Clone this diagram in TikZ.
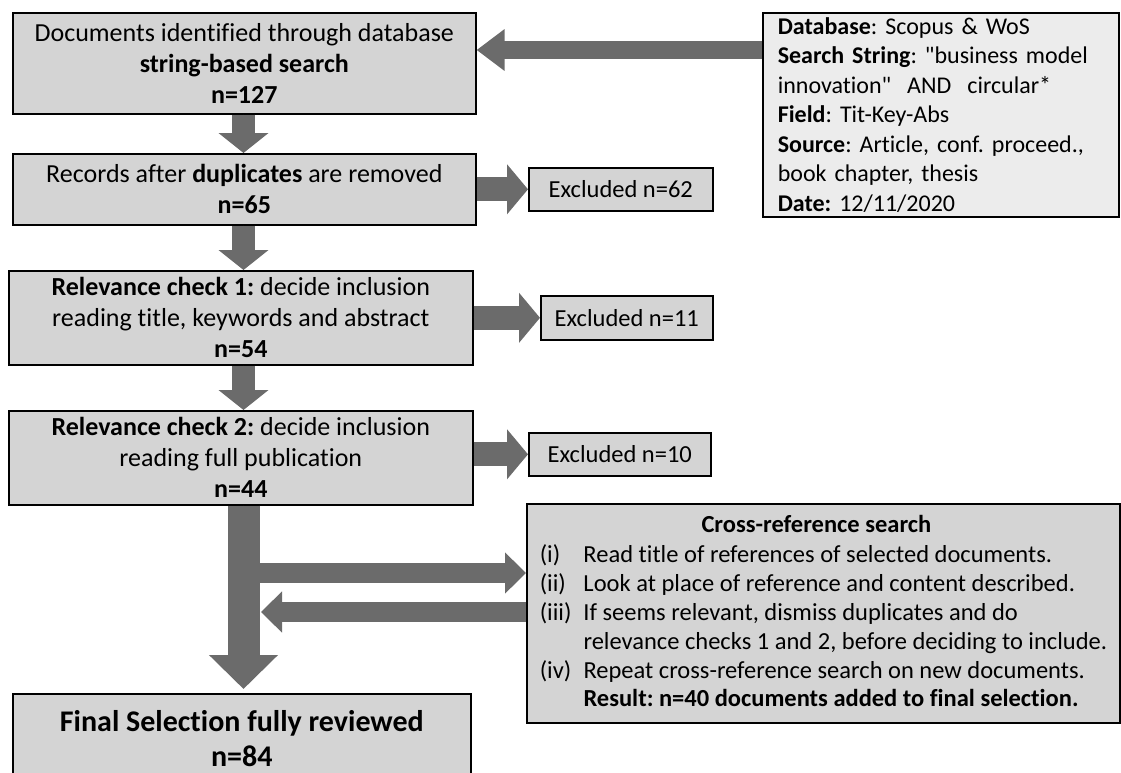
\documentclass[tikz,border=0pt]{standalone}
\usepackage{fontspec}
\setmainfont{Carlito}[Ligatures={TeXOff,NoCommon}]
\usetikzlibrary{arrows.meta,calc}
\definecolor{boxgray}{HTML}{D4D4D4}
\definecolor{infogray}{HTML}{ECECEC}
\definecolor{arrowgray}{HTML}{6B6B6B}
\tikzset{
  box/.style={draw=black, line width=1.6pt, fill=boxgray, align=center, inner sep=0pt,
    font=\fontsize{26}{31}\selectfont\frenchspacing},
  smallbox/.style={box, font=\fontsize{24.5}{29}\selectfont\frenchspacing},
  blockarrow/.style={draw=arrowgray, fill=arrowgray},
}
\begin{document}
\begin{tikzpicture}[x=1pt,y=-1pt]
\useasboundingbox (0,0) rectangle (1121,772);
\coordinate (ax) at (243.5,0);
% main column
\node[box, minimum width=463pt, minimum height=101pt, anchor=north west] (b1) at (12,12)
  {Documents identified through database\\\textbf{string-based search}\\\textbf{n=127}};
\node[box, minimum width=463pt, minimum height=71pt, anchor=north west] (b2) at (12,153)
  {Records after \textbf{duplicates} are removed\\\textbf{n=65}};
\node[box, minimum width=464pt, minimum height=94pt, anchor=north west] (b3) at (8,270)
  {\textbf{Relevance check 1:} decide inclusion\\reading title, keywords and abstract\\\textbf{n=54}};
\node[box, minimum width=464pt, minimum height=94pt, anchor=north west] (b4) at (8,410)
  {\textbf{Relevance check 2:} decide inclusion\\reading full publication\\\textbf{n=44}};
\node[box, minimum width=458pt, minimum height=89pt, anchor=north west,
  font=\fontsize{30}{35}\selectfont\bfseries] (fin) at (12,693)
  {Final Selection fully reviewed\\n=84};
% excluded boxes
\node[smallbox, minimum width=184pt, minimum height=43pt, anchor=north west] (e62) at (528,167) {Excluded n=62};
\node[smallbox, minimum width=172pt, minimum height=44pt, anchor=north west] (e11) at (540,295) {Excluded n=11};
\node[smallbox, minimum width=182pt, minimum height=43pt, anchor=north west] (e10) at (528,432) {Excluded n=10};
% info box
\node[smallbox, fill=infogray, align=left, anchor=north west, minimum width=356pt, minimum height=204pt,
  inner xsep=15pt, text width=326pt, font=\fontsize{24}{29.5}\selectfont\frenchspacing] (info) at (762,12)
  {\textbf{Database}: Scopus \& WoS\\
   \textbf{Search String}: "business model\\
   innovation"\ \ AND\ \ circular*\\
   \textbf{Field}: Tit-Key-Abs\\
   \textbf{Source}: Article, conf. proceed.,\\
   book chapter, thesis\\
   \textbf{Date:} 12/11/2020};
% cross-reference box
\node[smallbox, align=left, anchor=north west, minimum width=592pt, minimum height=219pt,
  inner xsep=13pt] (cross) at (526,503)
  {\begin{tabular}{@{}l@{\hspace{12pt}}l@{}}
   \multicolumn{2}{c}{\hspace{-14pt}\textbf{Cross-reference search}}\\[1pt]
   (i) & Read title of references of selected documents.\\
   (ii) & Look at place of reference and content described.\\
   (iii) & If seems relevant, dismiss duplicates and do\\
         & relevance checks 1 and 2, before deciding to include.\\
   (iv) & Repeat cross-reference search on new documents.\\[-1pt]
        & \textbf{Result: n=40 documents added to final selection.}
   \end{tabular}};
% arrows
\draw[blockarrow, line width=18pt, -{Triangle[width=40pt,length=28pt]}]
  ([yshift=-38pt]info.north west) -- ([yshift=-38pt]b1.north east);
\draw[blockarrow, line width=23pt, -{Triangle[width=49pt,length=20pt]}]
  (b1.south -| ax) -- (b2.north -| ax);
\draw[blockarrow, line width=23pt, -{Triangle[width=49pt,length=20pt]}]
  (b2.south -| ax) -- (b3.north -| ax);
\draw[blockarrow, line width=23pt, -{Triangle[width=49pt,length=20pt]}]
  (b3.south -| ax) -- (b4.north -| ax);
\draw[blockarrow, line width=24pt, -{Triangle[width=49pt,length=21pt]}]
  (e62.west -| b2.east) -- (e62.west);
\draw[blockarrow, line width=24pt, -{Triangle[width=49pt,length=21pt]}]
  (e11.west -| b3.east) -- (e11.west);
\draw[blockarrow, line width=24pt, -{Triangle[width=49pt,length=21pt]}]
  (e10.west -| b4.east) -- (e10.west);
% big arrow to final selection
\draw[blockarrow, line width=32pt, -{Triangle[width=67pt,length=34pt]}]
  (b4.south -| ax) -- ([yshift=4pt]fin.north -| ax);
\coordinate (s1) at (259,573);
\coordinate (s2) at (261,612);
\draw[blockarrow, line width=20pt, -{Triangle[width=40pt,length=21pt]}]
  ([xshift=-1pt]s1) -- (s1 -| cross.west);
\draw[blockarrow, line width=20pt, -{Triangle[width=40pt,length=21pt]}]
  (s2 -| cross.west) -- (s2);
\end{tikzpicture}
\end{document}
